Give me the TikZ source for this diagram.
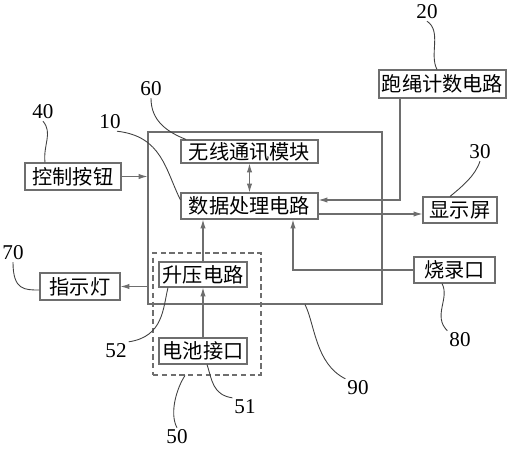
\documentclass[tikz,border=0pt]{standalone}
\usepackage{fontspec}
\setmainfont{Liberation Serif}
\newfontfamily\cjk{Noto Sans CJK SC}
\usepackage{tikz}
\usetikzlibrary{arrows.meta, positioning, calc}
\usepackage{xcolor}
\definecolor{linegray}{RGB}{110,110,110}

\begin{document}
\begin{tikzpicture}[
      x=0.02cm, y=-0.02cm,
      every node/.style={font=\fontsize{11.5}{13}\selectfont},
      box/.style={
        rectangle, draw=linegray, line width=0.6pt,
        inner sep=0pt, minimum height=0.52cm,
        font=\cjk\fontsize{11.5}{13}\selectfont
      },
      frame/.style={rectangle, draw=linegray, line width=0.6pt, inner sep=0pt},
      dashbox/.style={frame, dashed, dash pattern=on 3pt off 2pt},
      num/.style={font=\fontsize{12}{13}\selectfont, inner sep=1pt},
      arr/.style={-{Latex[length=5pt,width=3pt]}, line width=0.6pt, color=linegray},
      darr/.style={{Latex[length=5pt,width=3pt]}-{Latex[length=5pt,width=3pt]}, line width=0.6pt, color=linegray},
      lead/.style={line width=0.5pt, color=black!75}
    ]
      \useasboundingbox (0,0) rectangle (514,450);

      % frames
      \node[frame, minimum width=4.68cm, minimum height=3.44cm] (outer) at (265,218) {};
      \node[dashbox, minimum width=2.16cm, minimum height=2.44cm] (power) at (207,314) {};

      % blocks
      \node[box, minimum width=1.92cm, minimum height=0.54cm] (ctrl) at (73,176.5) {控制按钮};
      \node[box, minimum width=2.74cm, minimum height=0.46cm] (radio) at (249.5,151.5) {无线通讯模块};
      \node[box, minimum width=2.74cm] (proc) at (249.5,206) {数据处理电路};
      \node[box, minimum width=2.54cm, minimum height=0.56cm] (count) at (442.5,84) {跑绳计数电路};
      \node[box, minimum width=1.48cm] (disp) at (460,210) {显示屏};
      \node[box, minimum width=1.76cm, minimum height=0.5cm] (boost) at (203,274.5) {升压电路};
      \node[box, minimum width=1.76cm] (batt) at (203,351) {电池接口};
      \node[box, minimum width=1.6cm, minimum height=0.54cm] (led) at (80,286.5) {指示灯};
      \node[box, minimum width=1.62cm] (burn) at (454.5,270) {烧录口};

      % connections
      \draw[arr] (ctrl.east) -- (ctrl.east -| outer.west);
      \draw[darr] (radio.south) -- (proc.north);
      \draw[arr] ([xshift=-0.85cm]count.south) |- ([yshift=0.12cm]proc.east);
      \draw[arr] ([yshift=-0.16cm]proc.east) -- ([yshift=-0.16cm]proc.east -| disp.west);
      \draw[arr] (batt.north) -- (boost.south);
      \draw[arr] (boost.north) -- (boost.north |- proc.south);
      \draw[arr] (burn.west) -| ([xshift=0.87cm]proc.south);
      \draw[arr] (led.east -| outer.west) -- (led.east);

      % reference numerals
      \node[num] (l40) at (43,112) {40};
      \node[num] (l60) at (151,89) {60};
      \node[num] (l10) at (110,122) {10};
      \node[num] (l20) at (427,12) {20};
      \node[num] (l30) at (480,152) {30};
      \node[num] (l70) at (13,253) {70};
      \node[num] (l52) at (116,351) {52};
      \node[num] (l51) at (245,407) {51};
      \node[num] (l50) at (177,437) {50};
      \node[num] (l80) at (460,340) {80};
      \node[num] (l90) at (358,388) {90};

      % leader lines
      \draw[lead] (l40.south) .. controls +(10,12) and +(-2,-18) .. ([xshift=-0.56cm]ctrl.north);
      \draw[lead] (l60.south) .. controls +(0,22) and +(-20,-8) .. ([xshift=-1.27cm]radio.north);
      \draw[lead] ([xshift=4pt]l10.south) .. controls +(45,5) and +(-15,-30) .. ([yshift=0.12cm]proc.west);
      \draw[lead] (l20.south) .. controls +(15,10) and +(-8,-15) .. ([xshift=-0.11cm]count.north);
      \draw[lead] (l30.south) .. controls +(-5,15) and +(12,-10) .. ([xshift=-0.2cm]disp.north);
      \draw[lead] (l70.south) .. controls +(0,28) and +(-15,0) .. ([yshift=-0.07cm]led.west);
      \draw[lead] (l52.north east) .. controls +(35,-5) and +(-5,20) .. ([xshift=-0.7cm]boost.south);
      \draw[lead] (l51.north west) .. controls +(-20,-3) and +(5,15) .. ([xshift=0.08cm]batt.south);
      \draw[lead] (l50.north) .. controls +(-8,-15) and +(-8,12) .. ([xshift=-0.44cm]power.south);
      \draw[lead] (l80.north west) .. controls +(-15,-15) and +(8,15) .. ([xshift=-0.25cm]burn.south);
      \draw[lead] (l90.north west) .. controls +(-30,-15) and +(10,20) .. ([xshift=0.8cm]outer.south);
    \end{tikzpicture}
\end{document}
